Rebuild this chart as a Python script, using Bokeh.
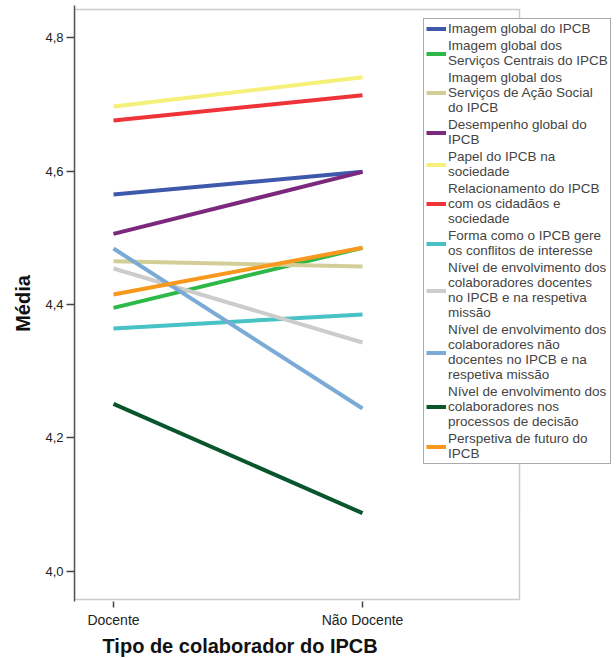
from bokeh.plotting import figure
from bokeh.models import (Range1d, FixedTicker, Legend, LegendItem, Title, BoxAnnotation)
from bokeh.embed import file_html
from bokeh.resources import INLINE

categories = ["Docente", "Não Docente"]
y_ticks = [4.0, 4.2, 4.4, 4.6, 4.8]
y_tick_labels = ["4,0", "4,2", "4,4", "4,6", "4,8"]

series_names = [
    "Imagem global do IPCB",
    "Imagem global dos\nServiços Centrais do IPCB",
    "Imagem global dos\nServiços de Ação Social\ndo IPCB",
    "Desempenho global do\nIPCB",
    "Papel do IPCB na\nsociedade",
    "Relacionamento do IPCB\ncom os cidadãos e\nsociedade",
    "Forma como o IPCB gere\nos conflitos de interesse",
    "Nível de envolvimento dos\ncolaboradores docentes\nno IPCB e na respetiva\nmissão",
    "Nível de envolvimento dos\ncolaboradores não\ndocentes no IPCB e na\nrespetiva missão",
    "Nível de envolvimento dos\ncolaboradores nos\nprocessos de decisão",
    "Perspetiva de futuro do\nIPCB",
]
docente = [4.565, 4.395, 4.465, 4.506, 4.697, 4.676, 4.364, 4.454, 4.484, 4.251, 4.415]
nao_docente = [4.599, 4.485, 4.457, 4.599, 4.741, 4.714, 4.385, 4.343, 4.244, 4.087, 4.485]
colors = ["#3E58AC", "#2EB848", "#D3CE97", "#7C287D", "#F5F07A", "#EF3338",
          "#48C2C5", "#CCCCCC", "#7AAAD5", "#0A562C", "#F8981D"]

x_pos = list(range(len(categories)))

# plotting-area box (SPSS-style frame), narrower than the bokeh frame
box_left, box_right = -0.1566, 1.6305
box_bottom, box_top = 3.9575, 4.8425

p = figure(width=616, height=659, output_backend="svg", toolbar_location=None,
           x_range=Range1d(-0.1566, 2.020), y_range=Range1d(3.9545, 4.8485),
           min_border_left=74, min_border_right=0, min_border_top=5, min_border_bottom=58)
p.grid.visible = False
p.outline_line_color = None

p.add_layout(BoxAnnotation(left=box_left, right=box_right, bottom=box_bottom, top=box_top,
                           fill_color=None, line_color="#555555", line_width=1.5))

items = []
for name, d, n, c in zip(series_names, docente, nao_docente, colors):
    r = p.line(x_pos, [d, n], line_color=c, line_width=4)
    items.append(LegendItem(label=name, renderers=[r]))

legend = Legend(items=items, location=(349, 137), label_text_font="Liberation Sans",
                label_text_font_size="13.5px", label_text_line_height=0.89,
                label_height=13, glyph_height=13, glyph_width=20, label_standoff=2,
                spacing=2, padding=2, margin=0,
                border_line_color="#555555", border_line_width=1,
                background_fill_color="white", background_fill_alpha=1.0)
p.add_layout(legend, "center")

xa = p.xaxis[0]
xa.ticker = FixedTicker(ticks=x_pos)
xa.major_label_overrides = {i: c for i, c in zip(x_pos, categories)}
xa.axis_line_color = None
ya = p.yaxis[0]
ya.ticker = FixedTicker(ticks=y_ticks)
ya.major_label_overrides = {t: l for t, l in zip(y_ticks, y_tick_labels)}
ya.axis_line_color = "#555555"
ya.axis_line_width = 1.5

for ax in (xa, ya):
    ax.minor_tick_line_color = None
    ax.major_tick_in = 0
    ax.major_tick_line_color = "#444444"
    ax.major_tick_line_width = 1.5
    ax.major_label_text_font = "Liberation Sans"
    ax.major_label_text_color = "#222222"
xa.major_tick_out = 6
xa.major_label_standoff = 4
xa.major_label_text_font_size = "14px"
ya.major_tick_out = 8
ya.major_label_standoff = 3
ya.major_label_text_font_size = "13px"

ya.axis_label = "Média"
ya.axis_label_text_font = "Liberation Sans"
ya.axis_label_text_font_style = "bold"
ya.axis_label_text_font_size = "20px"
ya.axis_label_text_color = "#111111"
ya.axis_label_standoff = 8

p.add_layout(Title(text="Tipo de colaborador do IPCB", align="left", offset=28, standoff=4,
                   text_font="Liberation Sans", text_font_style="bold",
                   text_font_size="20px", text_color="#111111"), "below")

open("out.html", "w").write(file_html(p, INLINE))
